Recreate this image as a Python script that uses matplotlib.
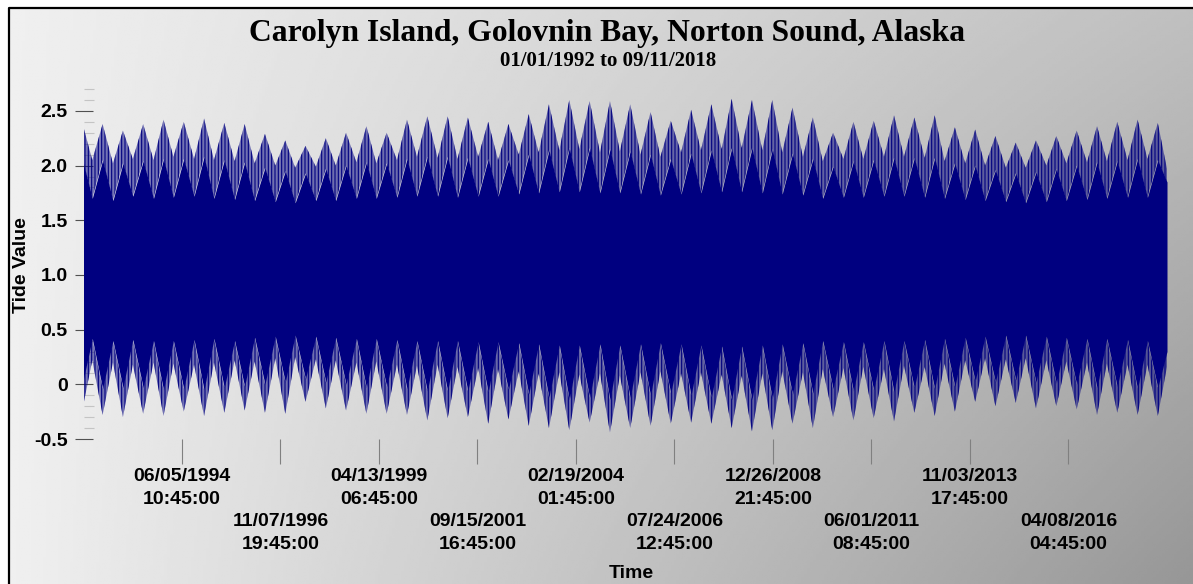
import numpy as np
import pandas as pd
import matplotlib as mpl
import matplotlib.pyplot as plt
from matplotlib.ticker import MultipleLocator

mpl.rcParams['font.family'] = 'Liberation Sans'
mpl.rcParams['savefig.dpi'] = 100
mpl.rcParams['hatch.linewidth'] = 0.8

W, H = 1193, 584
navy = '#000080'

start = pd.Timestamp('1992-01-01 00:00')
end = pd.Timestamp('2018-09-11 23:00')

# envelope samples: start, then Mar/Jun/Sep/Dec of each year, then end
seasons = ['03-20', '06-21', '09-22', '12-21']
times = [start]
for yr in range(1992, 2019):
    for s in seasons:
        t = pd.Timestamp(f'{yr}-{s}')
        if t < end:
            times.append(t)
times.append(end)

# tallest spikes of the high waters
upper_tip = [2.35,
    2.05, 2.38, 2.02, 2.32,   # 1992
    2.06, 2.38, 2.05, 2.42,
    2.08, 2.40, 2.06, 2.43,
    2.05, 2.39, 2.04, 2.38,
    2.02, 2.29, 2.00, 2.23,   # 1996
    1.98, 2.18, 1.99, 2.25,
    2.00, 2.30, 2.03, 2.36,
    2.02, 2.30, 2.05, 2.42,
    2.08, 2.45, 2.07, 2.45,   # 2000
    2.06, 2.44, 2.08, 2.40,
    2.05, 2.38, 2.10, 2.47,
    2.12, 2.56, 2.14, 2.60,
    2.15, 2.59, 2.12, 2.59,   # 2004
    2.13, 2.56, 2.10, 2.49,
    2.08, 2.41, 2.12, 2.51,
    2.14, 2.56, 2.15, 2.61,
    2.16, 2.60, 2.14, 2.60,   # 2008
    2.12, 2.53, 2.08, 2.44,
    2.04, 2.30, 2.06, 2.40,
    2.06, 2.41, 2.08, 2.46,
    2.08, 2.44, 2.07, 2.46,   # 2012
    2.04, 2.35, 2.02, 2.33,
    2.00, 2.27, 1.98, 2.21,
    1.98, 2.23, 2.00, 2.27,
    2.02, 2.32, 2.03, 2.36,   # 2016
    2.04, 2.40, 2.05, 2.42,
    2.06, 2.39,
    1.97]

# where the dense part of the high waters stops
upper_core = [2.02,
    1.70, 2.05, 1.68, 2.02,
    1.72, 2.04, 1.70, 2.06,
    1.71, 2.06, 1.72, 2.08,
    1.70, 2.05, 1.69, 2.03,
    1.68, 1.98, 1.67, 1.95,
    1.66, 1.93, 1.68, 1.97,
    1.68, 2.00, 1.70, 2.03,
    1.70, 2.02, 1.71, 2.06,
    1.72, 2.08, 1.72, 2.08,
    1.71, 2.07, 1.72, 2.06,
    1.72, 2.05, 1.74, 2.10,
    1.75, 2.14, 1.76, 2.16,
    1.76, 2.16, 1.75, 2.15,
    1.75, 2.13, 1.74, 2.10,
    1.73, 2.06, 1.74, 2.11,
    1.75, 2.14, 1.76, 2.16,
    1.76, 2.16, 1.75, 2.15,
    1.74, 2.11, 1.73, 2.06,
    1.70, 1.99, 1.71, 2.04,
    1.71, 2.05, 1.72, 2.07,
    1.72, 2.07, 1.71, 2.07,
    1.70, 2.02, 1.69, 2.00,
    1.68, 1.96, 1.67, 1.93,
    1.66, 1.94, 1.67, 1.97,
    1.68, 2.00, 1.69, 2.03,
    1.70, 2.04, 1.71, 2.06,
    1.71, 2.05,
    1.85]

# where the dense part of the low waters stops
lower_core = [0.05,
    0.42, -0.04, 0.40, -0.03,
    0.41, -0.03, 0.40, -0.05,
    0.40, -0.04, 0.41, -0.05,
    0.42, -0.03, 0.40, -0.02,
    0.43, 0.00, 0.44, 0.02,
    0.45, 0.05, 0.44, 0.02,
    0.43, 0.00, 0.42, -0.03,
    0.42, -0.02, 0.41, -0.04,
    0.40, -0.06, 0.40, -0.06,
    0.40, -0.06, 0.39, -0.07,
    0.39, -0.05, 0.38, -0.09,
    0.37, -0.12, 0.36, -0.14,
    0.36, -0.12, 0.37, -0.14,
    0.36, -0.12, 0.37, -0.10,
    0.38, -0.08, 0.37, -0.10,
    0.36, -0.12, 0.35, -0.14,
    0.35, -0.14, 0.36, -0.13,
    0.37, -0.09, 0.38, -0.08,
    0.40, -0.04, 0.39, -0.06,
    0.39, -0.05, 0.40, -0.07,
    0.40, -0.03, 0.41, -0.04,
    0.42, -0.02, 0.43, 0.03,
    0.44, 0.02, 0.45, 0.04,
    0.45, 0.02, 0.44, 0.01,
    0.43, 0.00, 0.42, -0.03,
    0.42, -0.02, 0.41, -0.04,
    0.40, -0.03,
    0.30]

# deepest spikes of the low waters
lower_tip = [-0.18,
    0.22, -0.28, 0.20, -0.30,
    0.18, -0.27, 0.20, -0.29,
    0.19, -0.25, 0.18, -0.29,
    0.20, -0.26, 0.22, -0.24,
    0.21, -0.26, 0.24, -0.27,
    0.25, -0.16, 0.23, -0.22,
    0.22, -0.24, 0.20, -0.27,
    0.21, -0.27, 0.18, -0.28,
    0.17, -0.33, 0.18, -0.31,
    0.16, -0.30, 0.15, -0.36,
    0.14, -0.32, 0.12, -0.38,
    0.10, -0.40, 0.11, -0.42,
    0.09, -0.35, 0.10, -0.44,
    0.08, -0.40, 0.11, -0.38,
    0.12, -0.36, 0.10, -0.35,
    0.11, -0.36, 0.09, -0.40,
    0.08, -0.43, 0.10, -0.42,
    0.12, -0.36, 0.11, -0.40,
    0.14, -0.30, 0.15, -0.33,
    0.16, -0.31, 0.14, -0.34,
    0.17, -0.26, 0.16, -0.29,
    0.19, -0.25, 0.22, -0.16,
    0.24, -0.20, 0.23, -0.17,
    0.24, -0.22, 0.22, -0.20,
    0.21, -0.23, 0.20, -0.28,
    0.19, -0.26, 0.18, -0.28,
    0.18, -0.29,
    0.16]

tick_times = ['1994-06-05 10:45', '1996-11-07 19:45', '1999-04-13 06:45',
              '2001-09-15 16:45', '2004-02-19 01:45', '2006-07-24 12:45',
              '2008-12-26 21:45', '2011-06-01 08:45', '2013-11-03 17:45',
              '2016-04-08 04:45']
y_ticks = [-0.5, 0, 0.5, 1.0, 1.5, 2.0, 2.5]
y_labels = ['-0.5', '0', '0.5', '1.0', '1.5', '2.0', '2.5']

fig = plt.figure(figsize=(W / 100, H / 100), dpi=100)

# grey gradient backdrop with a black frame on top/left
bg = fig.add_axes([0, 0, 1, 1], zorder=0)
gx, gy = np.meshgrid(np.linspace(0, 1, 400), np.linspace(0, 1, 200))
shade = 0.94 - 0.19 * gx - 0.16 * gx * gy
bg.imshow(shade, cmap='gray', vmin=0, vmax=1, aspect='auto',
          extent=[9, W, H, 8], interpolation='bilinear')
bg.plot([9, 9, W], [H, 8, 8], color='black', lw=1.6)
bg.set_xlim(0, W)
bg.set_ylim(H, 0)
bg.axis('off')

ax = fig.add_axes([83.5 / W, (H - 439) / H, 1083.5 / W, 350 / H], zorder=1)
ax.patch.set_alpha(0)
for sp in ax.spines.values():
    sp.set_visible(False)

t = pd.DatetimeIndex(times)
# spiky fringe: thin vertical strokes over a tint
hairy = dict(facecolor=(0, 0, 0.5, 0.5), edgecolor=navy, hatch='|' * 5, linewidth=0)
ax.fill_between(t, upper_core, upper_tip, **hairy)
ax.fill_between(t, lower_tip, lower_core, **hairy)
ax.fill_between(t, lower_core, upper_core, color=navy, lw=0)

ax.set_xlim(start, end)
ax.set_ylim(-0.5, 2.7)
ax.set_axisbelow(True)

tt = pd.to_datetime(tick_times)
xlabels = []
for i, d in enumerate(tt):
    s = d.strftime('%m/%d/%Y\n%H:%M:%S')
    xlabels.append(s if i % 2 == 0 else '\n\n' + s)
ax.set_xticks(tt, xlabels, fontsize=14, fontweight='bold', linespacing=1.42)
ax.tick_params(axis='x', direction='out', length=18, width=0.8,
               color='#808080', pad=3)

ax.set_yticks(y_ticks, y_labels, fontsize=14, fontweight='bold')
ax.yaxis.set_minor_locator(MultipleLocator(0.1))
ax.tick_params(axis='y', which='major', direction='inout', length=13,
               width=0.8, color='#505050', pad=5)
ax.tick_params(axis='y', which='minor', direction='in', length=7,
               width=0.8, color='#c4c4c4')

fig.text(22 / W, 1 - 265 / H, 'Tide Value', rotation=90, ha='center',
         va='center', fontsize=14, fontweight='bold')
fig.text(631 / W, 1 - 573 / H, 'Time', ha='center', va='center',
         fontsize=14, fontweight='bold')
fig.text(607 / W, 1 - 34 / H, 'Carolyn Island, Golovnin Bay, Norton Sound, Alaska',
         ha='center', va='center', fontsize=22.8, fontweight='bold',
         family='Liberation Serif')
fig.text(608 / W, 1 - 61 / H, '01/01/1992 to 09/11/2018', ha='center',
         va='center', fontsize=15, fontweight='bold', family='Liberation Serif')

fig.savefig('out.png', dpi=100)
